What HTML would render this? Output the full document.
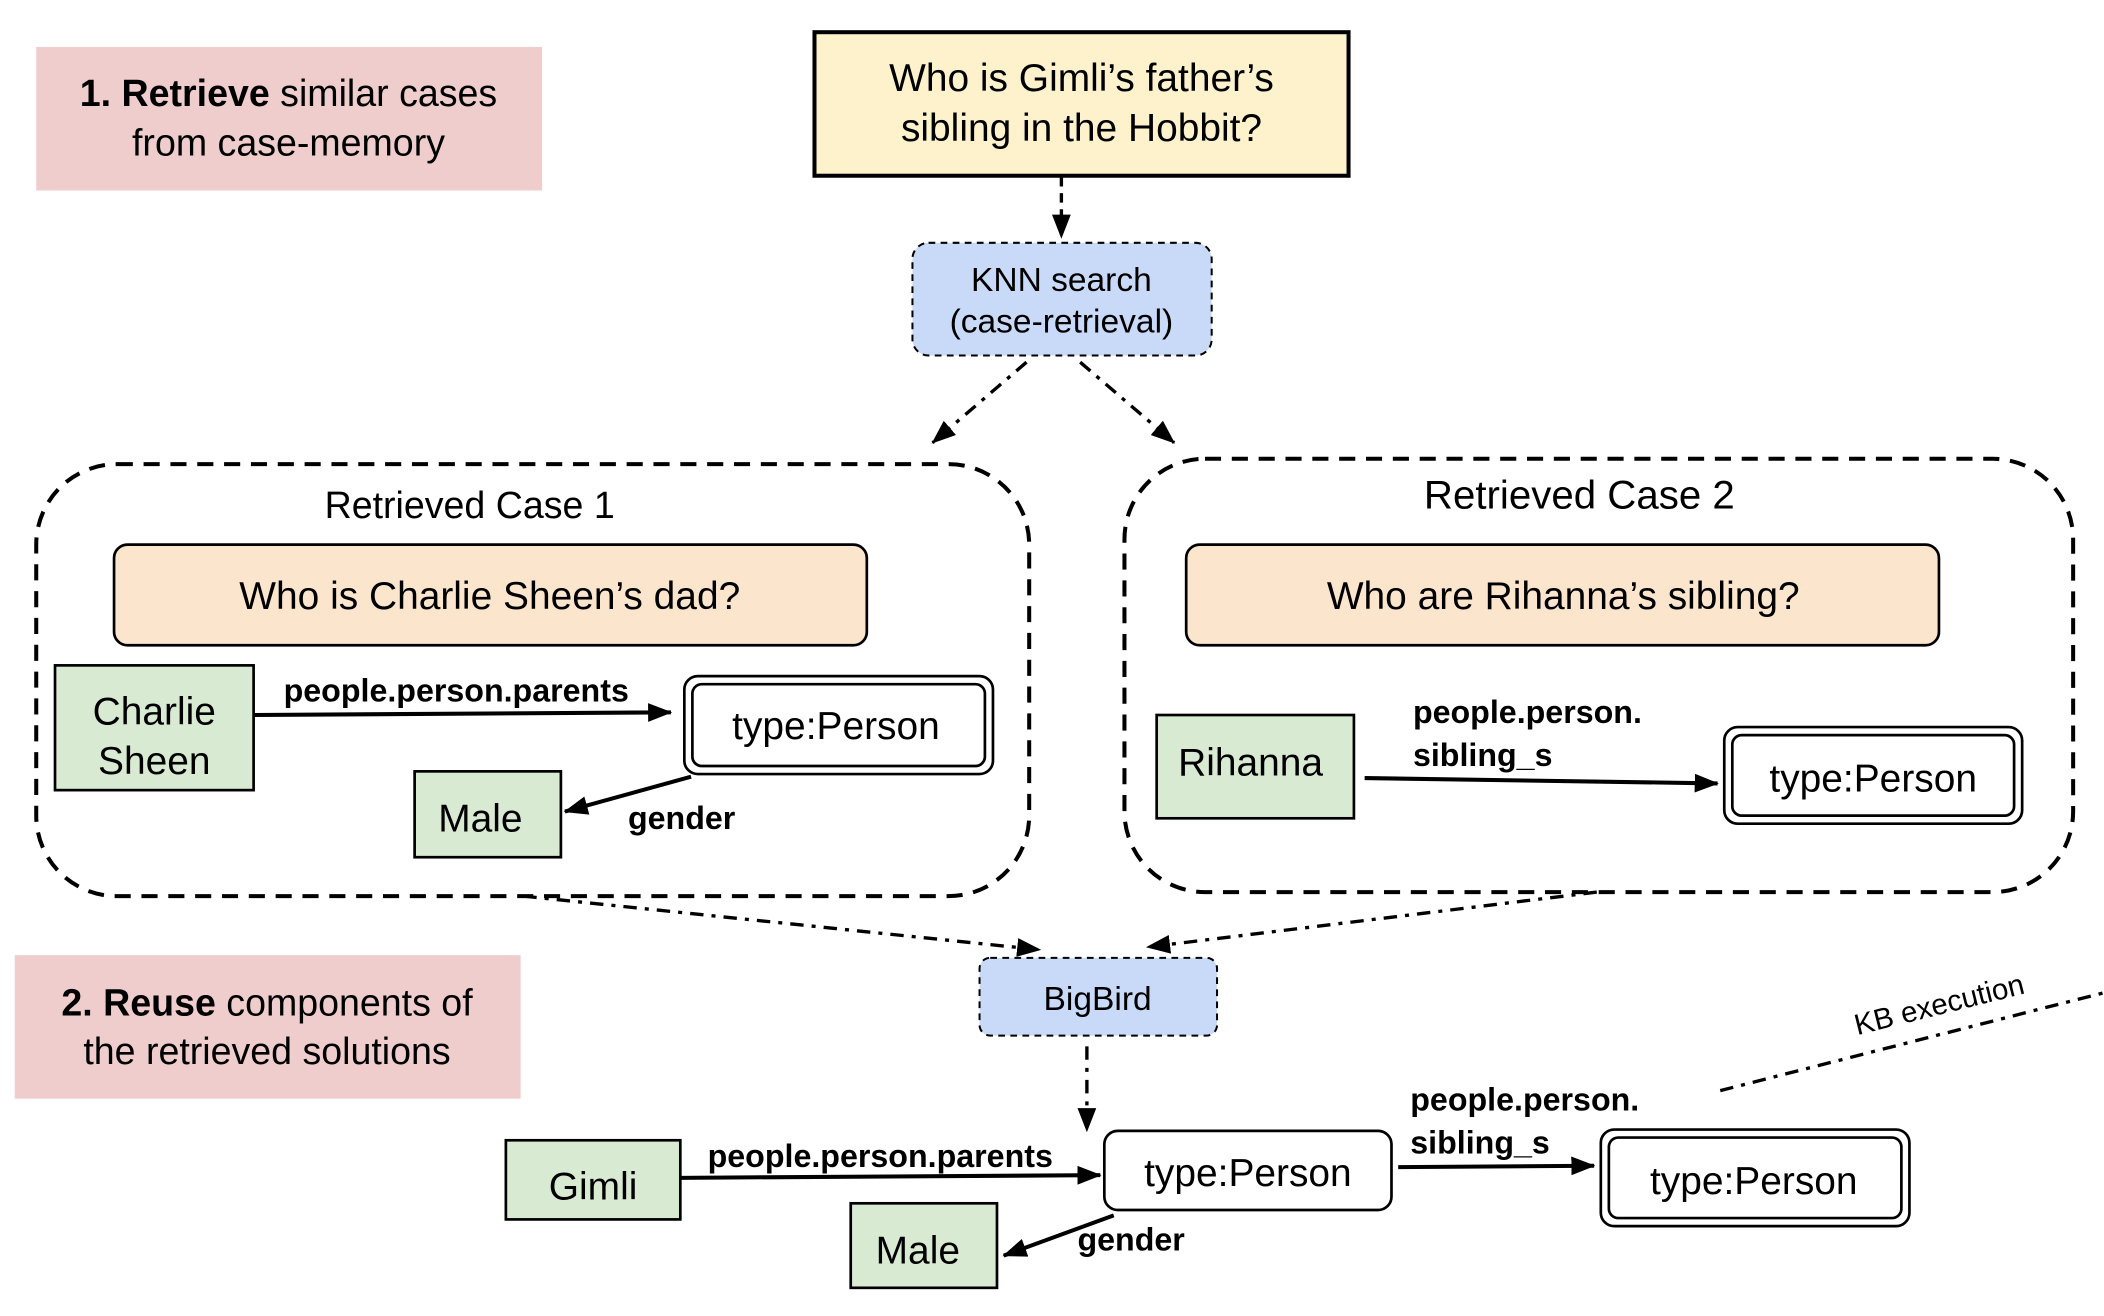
<!DOCTYPE html>
<html><head><meta charset="utf-8">
<style>
html,body{margin:0;padding:0;background:#fff;}
svg{display:block;}
text{font-family:"Liberation Sans",sans-serif;fill:#000;}
</style></head>
<body>
<svg width="2104" height="1316" viewBox="0 0 1568 981" preserveAspectRatio="none" xmlns="http://www.w3.org/2000/svg">
<defs>
<marker id="ah" markerWidth="10" markerHeight="10" refX="9" refY="5" orient="auto" markerUnits="userSpaceOnUse" viewBox="0 0 10 10">
<path d="M0,0 L10,5 L0,10 z" fill="#000"/></marker>
<marker id="ahb" markerWidth="18" markerHeight="14" refX="17" refY="7" orient="auto" markerUnits="userSpaceOnUse" viewBox="0 0 18 14">
<path d="M0,0 L18,7 L0,14 z" fill="#000"/></marker>
</defs>

<!-- pink label 1 -->
<rect x="27" y="35" width="377" height="107" fill="#eecdcc"/>
<text x="215" y="79" font-size="28" text-anchor="middle"><tspan font-weight="bold">1. Retrieve</tspan> similar cases</text>
<text x="215" y="116" font-size="28" text-anchor="middle">from case-memory</text>

<!-- question -->
<rect x="607" y="24" width="398" height="107" fill="#fdf2cc" stroke="#000" stroke-width="3"/>
<text x="806" y="68" font-size="29" text-anchor="middle">Who is Gimli’s father’s</text>
<text x="806" y="105" font-size="29" text-anchor="middle">sibling in the Hobbit?</text>

<line x1="791" y1="132" x2="791" y2="177" stroke="#000" stroke-width="2.5" stroke-dasharray="7,5" marker-end="url(#ahb)"/>

<!-- KNN -->
<rect x="680" y="181" width="223" height="84" rx="12" fill="#c9daf8" stroke="#000" stroke-width="1.5" stroke-dasharray="5,4"/>
<text x="791" y="217" font-size="25" text-anchor="middle">KNN search</text>
<text x="791" y="248" font-size="25" text-anchor="middle">(case-retrieval)</text>

<line x1="765" y1="270" x2="695" y2="330" stroke="#000" stroke-width="2.5" stroke-dasharray="10,6,3,6" marker-end="url(#ahb)"/>
<line x1="805" y1="270" x2="875" y2="330" stroke="#000" stroke-width="2.5" stroke-dasharray="10,6,3,6" marker-end="url(#ahb)"/>

<!-- Case 1 -->
<rect x="27" y="346" width="740" height="322" rx="60" fill="none" stroke="#000" stroke-width="3" stroke-dasharray="12,8"/>
<text x="350" y="386" font-size="28" text-anchor="middle">Retrieved Case 1</text>
<rect x="85" y="406" width="561" height="75" rx="10" fill="#fce5cd" stroke="#000" stroke-width="2"/>
<text x="365" y="454" font-size="29" text-anchor="middle">Who is Charlie Sheen’s dad?</text>
<rect x="41" y="496" width="148" height="93" fill="#d9ead3" stroke="#000" stroke-width="2"/>
<text x="115" y="540" font-size="29" text-anchor="middle">Charlie</text>
<text x="115" y="577" font-size="29" text-anchor="middle">Sheen</text>
<line x1="189" y1="533" x2="500" y2="531" stroke="#000" stroke-width="3" marker-end="url(#ahb)"/>
<text x="340" y="523" font-size="24" font-weight="bold" text-anchor="middle">people.person.parents</text>
<rect x="510" y="504" width="230" height="73" rx="10" fill="#fff" stroke="#000" stroke-width="2"/>
<rect x="516" y="510" width="218" height="61" rx="7" fill="#fff" stroke="#000" stroke-width="2"/>
<text x="623" y="551" font-size="29" text-anchor="middle">type:Person</text>
<rect x="309" y="575" width="109" height="64" fill="#d9ead3" stroke="#000" stroke-width="2"/>
<text x="358" y="620" font-size="29" text-anchor="middle">Male</text>
<line x1="515" y1="579" x2="421" y2="605" stroke="#000" stroke-width="3" marker-end="url(#ahb)"/>
<text x="508" y="618" font-size="24" font-weight="bold" text-anchor="middle">gender</text>

<!-- Case 2 -->
<rect x="838" y="342" width="707" height="323" rx="60" fill="none" stroke="#000" stroke-width="3" stroke-dasharray="12,8"/>
<text x="1177" y="379" font-size="30" text-anchor="middle">Retrieved Case 2</text>
<rect x="884" y="406" width="561" height="75" rx="10" fill="#fce5cd" stroke="#000" stroke-width="2"/>
<text x="1165" y="454" font-size="29" text-anchor="middle">Who are Rihanna’s sibling?</text>
<rect x="862" y="533" width="147" height="77" fill="#d9ead3" stroke="#000" stroke-width="2"/>
<text x="932" y="578" font-size="29" text-anchor="middle">Rihanna</text>
<line x1="1017" y1="580" x2="1280" y2="584" stroke="#000" stroke-width="3" marker-end="url(#ahb)"/>
<text x="1053" y="539" font-size="24" font-weight="bold">people.person.</text>
<text x="1053" y="571" font-size="24" font-weight="bold">sibling_s</text>
<rect x="1285" y="542" width="222" height="72" rx="10" fill="#fff" stroke="#000" stroke-width="2"/>
<rect x="1291" y="548" width="210" height="60" rx="7" fill="#fff" stroke="#000" stroke-width="2"/>
<text x="1396" y="590" font-size="29" text-anchor="middle">type:Person</text>

<!-- to BigBird -->
<line x1="390" y1="668" x2="775" y2="708" stroke="#000" stroke-width="2.5" stroke-dasharray="10,6,3,6" marker-end="url(#ahb)"/>
<line x1="1190" y1="665" x2="855" y2="706" stroke="#000" stroke-width="2.5" stroke-dasharray="10,6,3,6" marker-end="url(#ahb)"/>
<rect x="730" y="714" width="177" height="58" rx="8" fill="#c9daf8" stroke="#000" stroke-width="1.5" stroke-dasharray="5,4"/>
<text x="818" y="753" font-size="25" text-anchor="middle">BigBird</text>
<line x1="810" y1="780" x2="810" y2="843" stroke="#000" stroke-width="2.5" stroke-dasharray="10,6,3,6" marker-end="url(#ahb)"/>

<!-- pink label 2 -->
<rect x="11" y="712" width="377" height="107" fill="#eecdcc"/>
<text x="199" y="757" font-size="28" text-anchor="middle"><tspan font-weight="bold">2. Reuse</tspan> components of</text>
<text x="199" y="793" font-size="28" text-anchor="middle">the retrieved solutions</text>

<!-- solution -->
<rect x="377" y="850" width="130" height="59" fill="#d9ead3" stroke="#000" stroke-width="2"/>
<text x="442" y="894" font-size="29" text-anchor="middle">Gimli</text>
<line x1="507" y1="878" x2="820" y2="876" stroke="#000" stroke-width="3" marker-end="url(#ahb)"/>
<text x="656" y="870" font-size="24" font-weight="bold" text-anchor="middle">people.person.parents</text>
<rect x="823" y="843" width="214" height="59" rx="10" fill="#fff" stroke="#000" stroke-width="2"/>
<text x="930" y="884" font-size="29" text-anchor="middle">type:Person</text>
<rect x="634" y="897" width="109" height="63" fill="#d9ead3" stroke="#000" stroke-width="2"/>
<text x="684" y="942" font-size="29" text-anchor="middle">Male</text>
<line x1="830" y1="906" x2="748" y2="936" stroke="#000" stroke-width="3" marker-end="url(#ahb)"/>
<text x="843" y="932" font-size="24" font-weight="bold" text-anchor="middle">gender</text>
<line x1="1042" y1="870" x2="1188" y2="869" stroke="#000" stroke-width="3" marker-end="url(#ahb)"/>
<text x="1051" y="828" font-size="24" font-weight="bold">people.person.</text>
<text x="1051" y="860" font-size="24" font-weight="bold">sibling_s</text>
<rect x="1193" y="842" width="230" height="72" rx="10" fill="#fff" stroke="#000" stroke-width="2"/>
<rect x="1199" y="848" width="218" height="60" rx="7" fill="#fff" stroke="#000" stroke-width="2"/>
<text x="1307" y="890" font-size="29" text-anchor="middle">type:Person</text>

<line x1="1282" y1="813" x2="1568" y2="740" stroke="#000" stroke-width="2.5" stroke-dasharray="10,6,3,6"/>
<text x="1447" y="756" font-size="22" text-anchor="middle" transform="rotate(-14 1447 756)">KB execution</text>
</svg>
</body></html>
